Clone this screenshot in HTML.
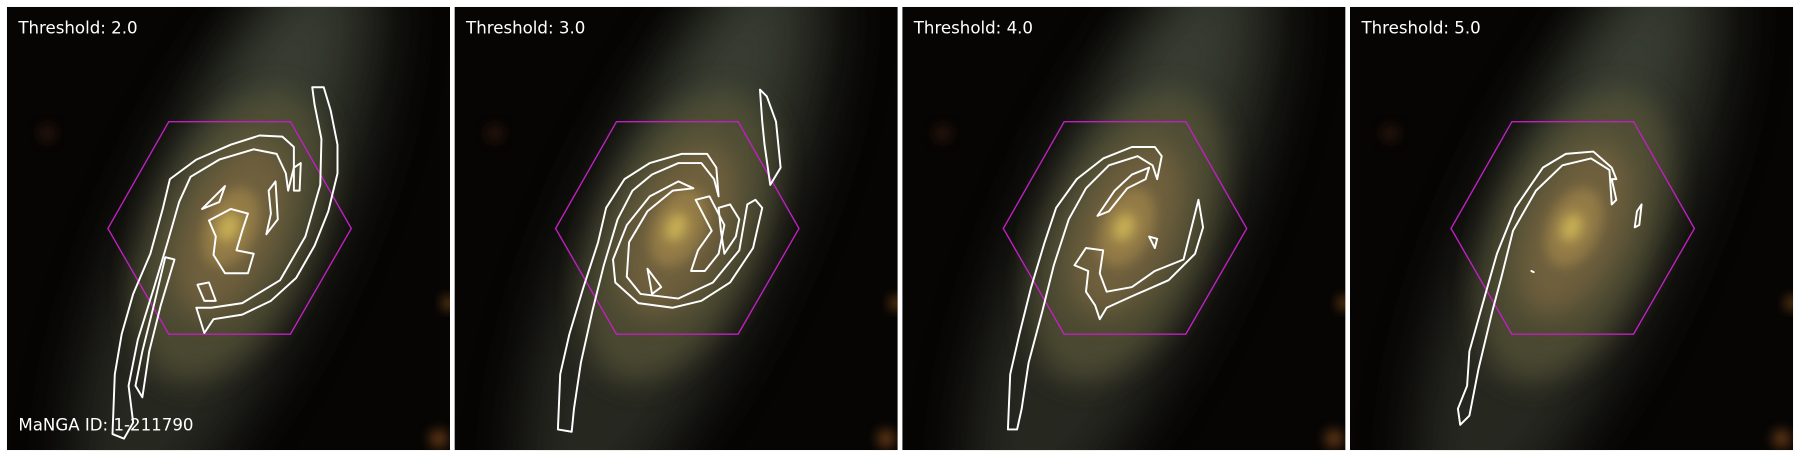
<!DOCTYPE html>
<html><head><meta charset="utf-8"><style>
html,body{margin:0;padding:0;background:#fff;width:1800px;height:457px;overflow:hidden;position:relative}
svg{display:block;position:absolute;left:0;top:0;overflow:hidden}
text{font-family:"DejaVu Sans","Liberation Sans",sans-serif}
</style></head><body>
<svg id="fig" width="1800" height="457" viewBox="0 0 1568 398" preserveAspectRatio="none" xmlns="http://www.w3.org/2000/svg">
<defs>
<filter id="b1" x="-50%" y="-50%" width="200%" height="200%"><feGaussianBlur stdDeviation="24"/></filter>
<filter id="b2" x="-50%" y="-50%" width="200%" height="200%"><feGaussianBlur stdDeviation="12"/></filter>
<filter id="b3" x="-50%" y="-50%" width="200%" height="200%"><feGaussianBlur stdDeviation="5"/></filter>
<clipPath id="pc"><rect x="0" y="0" width="386" height="386"/></clipPath>
</defs>
</svg>
<script>
const thresholds = ["2.0","3.0","4.0","5.0"];
const panelX = [6,396,786,1176];
const hexagon = [[88,193],[141,100],[247,100],[300,193],[247,285],[141,285]];
const contours = [
 [
  [[92,372],[94,320],[100,285],[110,250],[125,215],[136,175],[142,150],[165,133],[195,120],[220,112],[240,113],[250,122],[250,140],[245,160],[243,145],[235,128],[215,124],[185,133],[160,148],[150,170],[140,205],[128,245],[114,290],[106,330],[110,362],[102,376]],
  [[266,70],[276,70],[282,90],[288,120],[288,145],[280,178],[268,208],[252,236],[230,256],[205,268],[180,272],[172,284],[165,262],[178,262],[205,258],[238,238],[260,200],[273,155],[274,115],[268,85]],
  [[176,186],[195,176],[210,180],[205,195],[200,212],[215,215],[210,232],[190,232],[180,216],[182,200]],
  [[170,176],[190,156],[185,170]],
  [[228,160],[234,152],[236,185],[226,198],[230,180]],
  [[166,242],[176,240],[182,256],[172,256]],
  [[250,140],[256,136],[255,160],[250,160]],
  [[138,218],[128,260],[118,300],[112,330],[118,340],[124,300],[134,260],[146,220]]
 ],
 [
  [[90,368],[92,320],[100,285],[112,245],[125,205],[132,175],[148,150],[170,136],[198,128],[220,128],[228,140],[230,165],[226,150],[215,136],[195,136],[172,146],[155,160],[142,185],[130,225],[120,265],[110,310],[104,350],[102,370]],
  [[266,72],[272,78],[280,100],[284,140],[275,155],[270,120],[268,100]],
  [[255,172],[262,168],[268,175],[260,210],[240,240],[215,256],[190,262],[160,258],[140,240],[138,220],[150,190],[170,165],[195,152],[208,158],[190,160],[168,178],[152,205],[150,235],[162,250],[195,254],[225,240],[248,212]],
  [[210,168],[222,165],[235,190],[230,215],[218,230],[206,230],[212,212],[224,195]],
  [[168,228],[180,244],[172,250]],
  [[230,175],[240,172],[248,185],[245,200],[235,215],[232,195]]
 ],
 [
  [[92,368],[94,320],[102,285],[112,245],[124,205],[134,175],[152,150],[175,132],[200,122],[220,122],[226,130],[222,150],[218,138],[205,130],[180,138],[160,158],[145,185],[132,225],[122,265],[110,310],[104,350],[100,368]],
  [[170,182],[185,160],[200,146],[215,140],[212,150],[196,158],[180,178]],
  [[150,225],[160,210],[175,212],[172,232],[178,248],[200,244],[220,230],[245,220],[258,168],[262,192],[255,215],[232,238],[200,252],[178,262],[172,272],[168,260],[160,248],[162,230]],
  [[215,200],[222,202],[220,210]]
 ],
 [
  [[96,364],[94,350],[102,330],[104,300],[118,250],[128,215],[144,175],[168,140],[188,128],[212,126],[228,140],[232,150],[228,150],[232,168],[228,172],[226,142],[210,132],[185,138],[162,160],[142,195],[132,235],[124,265],[112,315],[104,356]],
  [[250,178],[254,172],[252,190],[248,192]],
  [[158,230],[160,231]]
 ]
];
const svg = document.getElementById('fig');
const NS = 'http://www.w3.org/2000/svg';
function mk(tag, attrs, parent){const e=document.createElementNS(NS,tag);for(const k in attrs)e.setAttribute(k,attrs[k]);parent.appendChild(e);return e;}
const gal = [
 {cx:195,cy:200,rx:85,ry:280,fill:'#3e4034',op:0.6,f:'b1'},
 {cx:215,cy:120,rx:45,ry:160,fill:'#4e5646',op:0.5,f:'b1'},
 {cx:196,cy:200,rx:70,ry:135,fill:'#5a5638',op:0.7,f:'b2'},
 {cx:196,cy:194,rx:42,ry:80,fill:'#7a6640',op:0.75,f:'b2'},
 {cx:195,cy:192,rx:22,ry:36,fill:'#9c8248',op:0.8,f:'b3'},
 {cx:193,cy:192,rx:9,ry:13,fill:'#d0b858',op:0.85,f:'b3'}
];
thresholds.forEach((t,i)=>{
  const g = mk('g',{transform:`translate(${panelX[i]},6)`},svg);
  
  
  const inner = mk('g',{'clip-path':'url(#pc)'},g);
  const bg = mk('rect',{x:0,y:0,width:386,height:386,fill:'#060504'},inner);
  
  
  gal.forEach(e=>{mk('ellipse',{cx:e.cx,cy:e.cy,rx:e.rx,ry:e.ry,fill:e.fill,opacity:e.op,filter:`url(#${e.f})`,transform:`rotate(24 ${e.cx} ${e.cy})`},inner);});
  mk('circle',{cx:385,cy:258,r:6,fill:'#b06a20',opacity:0.6,filter:'url(#b3)'},inner);
  mk('circle',{cx:376,cy:376,r:8,fill:'#a05a20',opacity:0.6,filter:'url(#b3)'},inner);
  mk('circle',{cx:35,cy:110,r:8,fill:'#3a1a10',opacity:0.6,filter:'url(#b3)'},inner);
  const hex = mk('polygon',{points:hexagon.map(p=>p.join(',')).join(' '),fill:'none',stroke:'#c020c0','stroke-width':1.2},inner);
  
  
  contours[i].forEach((c,j)=>{
    const p = mk('polygon',{points:c.map(q=>q.join(',')).join(' '),fill:'none',stroke:'#fff','stroke-width':1.7,'stroke-linejoin':'round'},inner);
    
    
  });
  const tx = mk('text',{x:10,y:23,fill:'#fff','font-size':14.5},g);
  tx.textContent = 'Threshold: '+t;
  
  
  if(i===0){
    const id = mk('text',{x:10,y:369,fill:'#fff','font-size':14.5},g);
    id.textContent = 'MaNGA ID: 1-211790';
    
    
  }
});
</script>
</body></html>
